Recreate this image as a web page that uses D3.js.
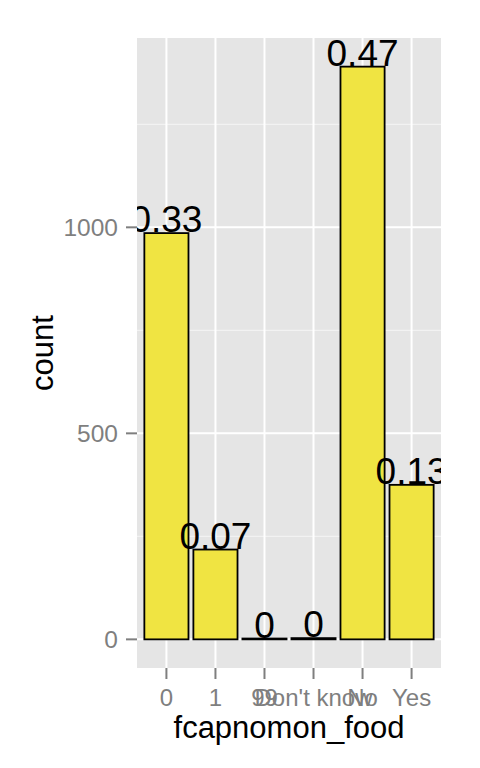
<!DOCTYPE html>
<html>
<head>
<meta charset="utf-8">
<script src="https://cdn.jsdelivr.net/npm/d3@7"></script>
<style>
  body { margin: 0; background: #fff; }
  svg text { font-family: "Liberation Sans", Arial, Helvetica, sans-serif; }
</style>
</head>
<body>
<svg id="chart" width="480" height="768"></svg>
<script>
// categories and counts
var categories = ["0", "1", "99", "Don't know", "No", "Yes"]
var counts = [986, 218, 2, 3, 1390, 375]
var yTicks = [0, 500, 1000]
var yMinor = [250, 750, 1250]

var total = d3.sum(counts)
var panel = { left: 137, right: 441, top: 38, bottom: 668 }

var svg = d3.select("#chart")

var maxY = d3.max(counts)
var pad = maxY * 0.05
var y = d3.scaleLinear()
	.domain([-pad, maxY + pad])
	.range([panel.bottom, panel.top])

// discrete axis: 0.6 of a step on each side of the outer category centres
var x = d3.scaleBand()
	.domain(categories)
	.range([panel.left, panel.right])
	.paddingInner(0)
	.paddingOuter(0.1)

var bw = x.bandwidth() * 0.9
var cx = d => x(d) + x.bandwidth() / 2

svg.append("rect")
	.attr("x", panel.left).attr("y", panel.top)
	.attr("width", panel.right - panel.left)
	.attr("height", panel.bottom - panel.top)
	.attr("fill", "#E5E5E5")

svg.append("defs").append("clipPath").attr("id", "clip")
	.append("rect")
	.attr("x", panel.left).attr("y", panel.top)
	.attr("width", panel.right - panel.left)
	.attr("height", panel.bottom - panel.top)

var grid = svg.append("g")
grid.selectAll(".minor").data(yMinor).enter().append("line")
	.attr("x1", panel.left).attr("x2", panel.right)
	.attr("y1", d => y(d)).attr("y2", d => y(d))
	.attr("stroke", "#F2F2F2").attr("stroke-width", 1.2)
grid.selectAll(".majorY").data(yTicks).enter().append("line")
	.attr("x1", panel.left).attr("x2", panel.right)
	.attr("y1", d => y(d)).attr("y2", d => y(d))
	.attr("stroke", "#fff").attr("stroke-width", 2)
grid.selectAll(".majorX").data(categories).enter().append("line")
	.attr("x1", cx).attr("x2", cx)
	.attr("y1", panel.top).attr("y2", panel.bottom)
	.attr("stroke", "#fff").attr("stroke-width", 2)

var plot = svg.append("g").attr("clip-path", "url(#clip)")

plot.selectAll(".bar").data(categories).enter().append("rect")
	.attr("x", d => cx(d) - bw / 2)
	.attr("width", bw)
	.attr("y", (d, i) => y(counts[i]))
	.attr("height", (d, i) => y(0) - y(counts[i]))
	.attr("fill", "#F0E442")
	.attr("stroke", "#000")
	.attr("stroke-width", 1.8)

plot.selectAll(".lbl").data(categories).enter().append("text")
	.attr("x", cx)
	.attr("y", (d, i) => y(counts[i]) - 1)
	.attr("text-anchor", "middle")
	.attr("font-size", 37)
	.attr("fill", "#000")
	.text((d, i) => String(+(counts[i] / total).toFixed(2)))

// y axis
var yAxis = svg.append("g")
yAxis.selectAll("line").data(yTicks).enter().append("line")
	.attr("x1", panel.left - 11).attr("x2", panel.left)
	.attr("y1", d => y(d)).attr("y2", d => y(d))
	.attr("stroke", "#7F7F7F").attr("stroke-width", 2)
yAxis.selectAll("text").data(yTicks).enter().append("text")
	.attr("x", panel.left - 19)
	.attr("y", d => y(d))
	.attr("dy", "0.35em")
	.attr("text-anchor", "end")
	.attr("font-size", 24.5)
	.attr("fill", "#7F7F7F")
	.text(d => d)

// x axis
var xAxis = svg.append("g")
xAxis.selectAll("line").data(categories).enter().append("line")
	.attr("x1", cx).attr("x2", cx)
	.attr("y1", panel.bottom).attr("y2", panel.bottom + 11)
	.attr("stroke", "#7F7F7F").attr("stroke-width", 2)
xAxis.selectAll("text").data(categories).enter().append("text")
	.attr("x", cx)
	.attr("y", 706)
	.attr("text-anchor", "middle")
	.attr("font-size", 24)
	.attr("fill", "#7F7F7F")
	.text(d => d)

svg.append("text")
	.attr("x", (panel.left + panel.right) / 2)
	.attr("y", 738)
	.attr("text-anchor", "middle")
	.attr("font-size", 31)
	.attr("fill", "#000")
	.text("fcapnomon_food")

svg.append("text")
	.attr("transform", "translate(53," + ((panel.top + panel.bottom) / 2) + ") rotate(-90)")
	.attr("text-anchor", "middle")
	.attr("font-size", 31)
	.attr("fill", "#000")
	.text("count")
</script>
</body>
</html>
